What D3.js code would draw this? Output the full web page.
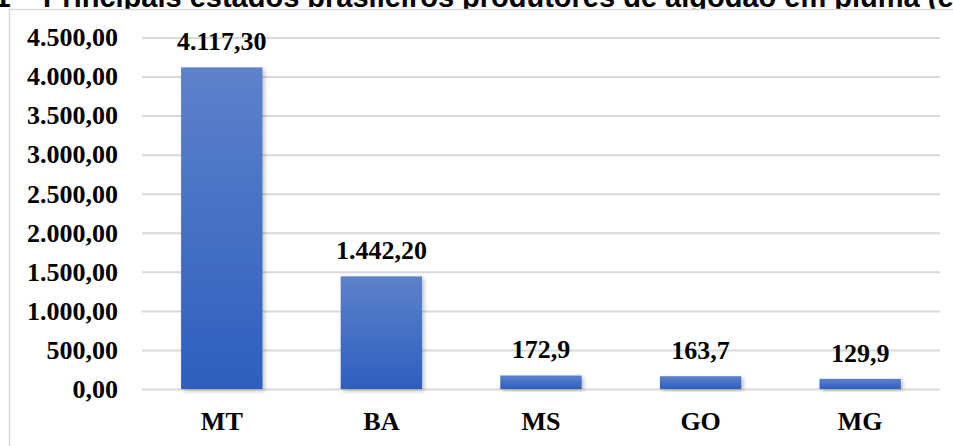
<!DOCTYPE html>
<html>
<head>
<meta charset="utf-8">
<script src="https://cdnjs.cloudflare.com/ajax/libs/d3/7.8.5/d3.min.js"></script>
<style>
  body { margin: 0; background: #fff; overflow: hidden; }
  svg { display: block; }
</style>
</head>
<body>
<svg id="chart"></svg>
<script>
'use strict';
// chart data
var states = ['MT', 'BA', 'MS', 'GO', 'MG'];
var production = [4117.3, 1442.2, 172.9, 163.7, 129.9];
var valueLabels = ['4.117,30', '1.442,20', '172,9', '163,7', '129,9'];
var yTicks = [0, 500, 1000, 1500, 2000, 2500, 3000, 3500, 4000, 4500];
var titleLead = 'Figura 1 – ';
var titleMain = 'Principais estados brasileiros produtores de algodão em pluma (em mil toneladas)';

var canvasWidth = 953;
var canvasHeight = 446;
var margin = { top: 37.5, right: 13, bottom: 57, left: 142 };
var width = canvasWidth - margin.left - margin.right;
var height = canvasHeight - margin.top - margin.bottom;

var svg = d3.select('#chart')
    .attr('width', canvasWidth)
    .attr('height', canvasHeight);

var ptBR = d3.formatLocale({ decimal: ',', thousands: '.', grouping: [3], currency: ['R$', ''] });
var fmt = ptBR.format(',.2f');

// title, partly hidden behind the chart box like in the source
var title = svg.append('text')
    .attr('y', 7)
    .style('font-family', 'Arial, "Liberation Sans", sans-serif')
    .style('font-weight', 'bold')
    .style('font-size', '29px')
    .attr('fill', '#000');
var lead = title.append('tspan').text(titleLead);
title.append('tspan').text(titleMain);
var leadWidth = lead.node().getComputedTextLength();
title.attr('x', 43 - leadWidth);

// chart box
var defs = svg.append('defs');
var grad = defs.append('linearGradient')
    .attr('id', 'barGrad')
    .attr('x1', 0).attr('y1', 0).attr('x2', 0).attr('y2', 1);
grad.append('stop').attr('offset', '0%').attr('stop-color', '#5d82ca');
grad.append('stop').attr('offset', '100%').attr('stop-color', '#2e5ebf');

var shadow = defs.append('filter')
    .attr('id', 'barShadow')
    .attr('x', '-20%').attr('y', '-20%')
    .attr('width', '140%').attr('height', '140%');
shadow.append('feDropShadow')
    .attr('dx', 2).attr('dy', 2)
    .attr('stdDeviation', 2)
    .attr('flood-color', '#000')
    .attr('flood-opacity', 0.25);

svg.append('rect')
    .attr('x', 9.5)
    .attr('y', 9.5)
    .attr('width', canvasWidth + 20)
    .attr('height', canvasHeight + 20)
    .attr('fill', '#fff')
    .attr('stroke', '#d9d9d9')
    .attr('stroke-width', 1.5);

var graphArea = svg.append('g')
    .attr('transform', 'translate(' + margin.left + ',' + margin.top + ')');

var xScale = d3.scaleBand()
    .domain(states)
    .range([0, width])
    .paddingInner(0.49)
    .paddingOuter(0.245);

var yScale = d3.scaleLinear()
    .domain([0, 4500])
    .range([height, 0]);

// gridlines
graphArea.append('g')
    .attr('class', 'grid')
    .call(d3.axisLeft(yScale).tickValues(yTicks).tickSize(-width).tickFormat(''))
    .call(function (g) { g.select('.domain').remove(); })
    .selectAll('line')
    .attr('stroke', '#d9d9d9')
    .attr('stroke-width', 2);

// y axis labels
var yAxis = graphArea.append('g')
    .attr('transform', 'translate(-24,0)')
    .call(d3.axisLeft(yScale).tickValues(yTicks).tickSize(0).tickPadding(0).tickFormat(fmt));
yAxis.select('.domain').remove();
yAxis.selectAll('text')
    .attr('dy', '0.32em')
    .style('font-family', '"Times New Roman", "Liberation Serif", serif')
    .style('font-weight', 'bold')
    .style('font-size', '26px')
    .attr('fill', '#000');

// x axis labels
var xAxis = graphArea.append('g')
    .attr('transform', 'translate(0,' + height + ')')
    .call(d3.axisBottom(xScale).tickSize(0).tickPadding(0));
xAxis.select('.domain').remove();
xAxis.selectAll('text')
    .attr('y', 41)
    .attr('dy', 0)
    .style('font-family', '"Times New Roman", "Liberation Serif", serif')
    .style('font-weight', 'bold')
    .style('font-size', '26px')
    .attr('fill', '#000');

// bars
graphArea.selectAll('rect.bar')
    .data(production)
    .enter()
    .append('rect')
    .attr('class', 'bar')
    .attr('x', function (d, i) { return xScale(states[i]); })
    .attr('y', function (d) { return yScale(d); })
    .attr('width', xScale.bandwidth())
    .attr('height', function (d) { return height - yScale(d); })
    .attr('fill', 'url(#barGrad)')
    .attr('filter', 'url(#barShadow)');

// value labels
graphArea.selectAll('text.value')
    .data(production)
    .enter()
    .append('text')
    .attr('class', 'value')
    .attr('x', function (d, i) { return xScale(states[i]) + xScale.bandwidth() / 2; })
    .attr('y', function (d) { return yScale(d) - 17; })
    .attr('text-anchor', 'middle')
    .style('font-family', '"Times New Roman", "Liberation Serif", serif')
    .style('font-weight', 'bold')
    .style('font-size', '26px')
    .attr('fill', '#000')
    .text(function (d, i) { return valueLabels[i]; });
</script>
</body>
</html>
